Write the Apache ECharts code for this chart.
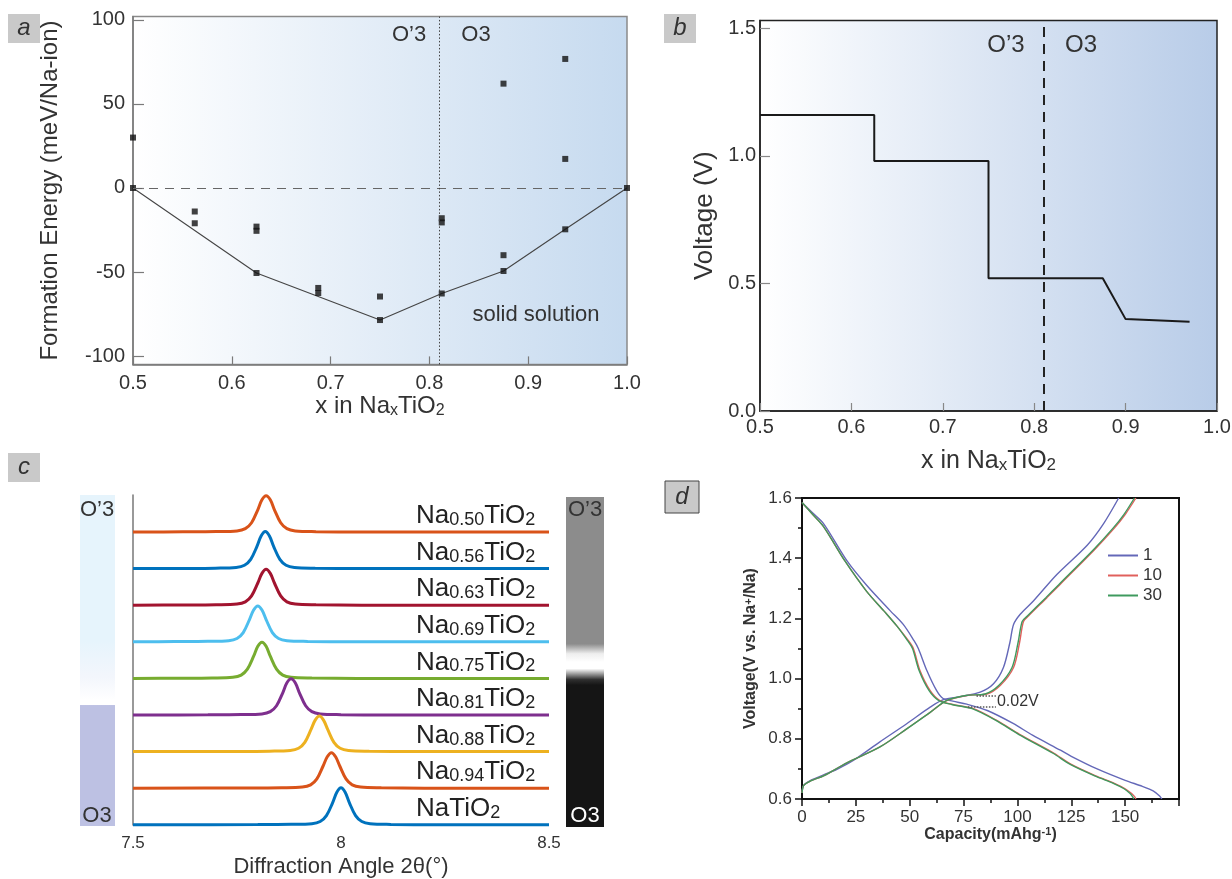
<!DOCTYPE html>
<html><head><meta charset="utf-8">
<script src="https://cdn.jsdelivr.net/npm/echarts@6.0.0/dist/echarts.min.js"></script>
<style>html,body{margin:0;padding:0;background:#fff}#chart{width:1232px;height:879px}</style>
</head><body><div id="chart"></div>
<script>
// ---------------- Panel a : formation energy ----------------
const formationX = [0.5,0.5,0.5625,0.5625,0.625,0.625,0.625,0.6875,0.6875,0.75,0.75,0.8125,0.8125,0.8125,0.875,0.875,0.875,0.9375,0.9375,0.9375,1.0];
const formationE = [30,0,-14,-21,-23,-25.5,-50.6,-59.5,-62.5,-64.6,-78.6,-18,-20.5,-62.8,62.1,-40,-49.4,76.8,17.3,-24.6,0];
const hullX = [0.5,0.625,0.75,0.8125,0.875,0.9375,1.0];
const hullE = [0,-50.6,-78.6,-62.8,-49.4,-24.6,0];
const boundaryA = 0.8125;
const aTickValues = [-100,-50,0,50,100];

// ---------------- Panel b : voltage profile ----------------
const stepX = [0.5,0.625,0.625,0.75,0.75,0.875,0.9,0.97];
const stepV = [1.16,1.16,0.98,0.98,0.52,0.52,0.36,0.35];
const boundaryB = 0.81;
const bTickValues = [0,0.5,1.0,1.5];

// ---------------- Panel c : XRD (003) peaks ----------------
const compositions = ['0.50','0.56','0.63','0.69','0.75','0.81','0.88','0.94',''];
const traceColors = ['#D95319','#0072BD','#A2142F','#4DBEEE','#77AC30','#7E2F8E','#EDB120','#D95319','#0072BD'];
const xrd050 = [[7.5,0],[7.62,0.005],[7.7,0.012],[7.75,0.03],[7.77,0.09],[7.785,0.25],[7.8,0.6],[7.81,0.87],[7.82,0.98],[7.83,0.87],[7.84,0.6],[7.855,0.25],[7.87,0.09],[7.89,0.03],[7.94,0.01],[8.05,0],[8.5,0]];
const xrd056 = [[7.5,0],[7.62,0.005],[7.698,0.012],[7.748,0.03],[7.768,0.09],[7.783,0.25],[7.798,0.6],[7.808,0.88],[7.818,1.0],[7.828,0.88],[7.838,0.6],[7.853,0.25],[7.868,0.09],[7.888,0.03],[7.938,0.01],[8.05,0],[8.5,0]];
const xrd063 = [[7.5,0],[7.62,0.005],[7.7,0.012],[7.75,0.03],[7.77,0.09],[7.785,0.25],[7.8,0.6],[7.81,0.86],[7.82,0.97],[7.83,0.86],[7.84,0.6],[7.855,0.25],[7.87,0.09],[7.89,0.03],[7.94,0.01],[8.05,0],[8.5,0]];
const xrd069 = [[7.5,0],[7.6,0.005],[7.68,0.012],[7.73,0.03],[7.75,0.09],[7.765,0.25],[7.78,0.6],[7.79,0.86],[7.8,0.97],[7.81,0.86],[7.82,0.6],[7.835,0.25],[7.85,0.09],[7.87,0.03],[7.92,0.01],[8.03,0],[8.5,0]];
const xrd075 = [[7.5,0],[7.61,0.005],[7.69,0.012],[7.74,0.03],[7.76,0.09],[7.775,0.25],[7.79,0.6],[7.8,0.87],[7.81,0.98],[7.82,0.87],[7.83,0.6],[7.845,0.25],[7.86,0.09],[7.88,0.03],[7.93,0.01],[8.04,0],[8.5,0]];
const xrd081 = [[7.5,0],[7.68,0.005],[7.76,0.012],[7.81,0.03],[7.83,0.09],[7.845,0.25],[7.86,0.6],[7.87,0.87],[7.88,0.98],[7.89,0.87],[7.9,0.6],[7.915,0.25],[7.93,0.09],[7.95,0.03],[8.0,0.01],[8.11,0],[8.5,0]];
const xrd088 = [[7.5,0],[7.75,0.005],[7.828,0.012],[7.878,0.03],[7.898,0.09],[7.913,0.25],[7.928,0.6],[7.938,0.85],[7.948,0.96],[7.958,0.85],[7.968,0.6],[7.983,0.25],[7.998,0.09],[8.018,0.03],[8.068,0.01],[8.18,0],[8.5,0]];
const xrd094 = [[7.5,0],[7.78,0.005],[7.857,0.012],[7.907,0.03],[7.927,0.09],[7.942,0.25],[7.957,0.6],[7.967,0.85],[7.977,0.96],[7.987,0.85],[7.997,0.6],[8.012,0.25],[8.027,0.09],[8.047,0.03],[8.097,0.01],[8.2,0],[8.5,0]];
const xrd100 = [[7.5,0],[7.8,0.005],[7.88,0.012],[7.93,0.03],[7.95,0.09],[7.965,0.25],[7.98,0.6],[7.99,0.88],[8.0,1.0],[8.01,0.88],[8.02,0.6],[8.035,0.25],[8.05,0.09],[8.07,0.03],[8.12,0.01],[8.23,0],[8.5,0]];
const xrdTraces = [xrd050,xrd056,xrd063,xrd069,xrd075,xrd081,xrd088,xrd094,xrd100];

// ---------------- Panel d : charge / discharge ----------------
const cycleNames = ['1','10','30'];
const cycleColors = ['#6468b8','#e0605c','#3f9a5e'];
const cap1Dis = [0,5,10,21,30,41,47,52,54,58,62.5,65.5,70,76.5,86,98,107,120,125,137,150,158,163,166,167];
const volt1Dis = [1.585,1.55,1.515,1.39,1.31,1.225,1.18,1.126,1.10,1.026,0.96,0.934,0.925,0.915,0.894,0.851,0.812,0.762,0.742,0.70,0.662,0.642,0.627,0.61,0.60];
const cap10Dis = [0,5,10,20,30,38,44,49.4,51.7,54.8,59.5,64,70,79.6,90.4,101,117,125,137,145,150,153,154.5,155];
const volt10Dis = [1.585,1.545,1.505,1.39,1.29,1.225,1.175,1.126,1.10,1.026,0.96,0.927,0.914,0.90,0.861,0.815,0.752,0.715,0.675,0.652,0.634,0.618,0.607,0.60];
const cap30Dis = [0,5,10,20,30,38,44,49,51.3,54.4,59,63.5,69.5,79,90,100.5,116.5,124.5,136.5,144.5,149.5,152.3,153.5,154];
const volt30Dis = [1.585,1.545,1.505,1.39,1.29,1.225,1.175,1.126,1.10,1.026,0.96,0.927,0.914,0.90,0.861,0.815,0.752,0.715,0.675,0.652,0.634,0.618,0.607,0.60];
const cap1Chg = [0,0.8,4,10,16,24,36,48.6,59.5,65.6,73.4,82.7,88.9,93.5,96.5,98.2,101.3,107.4,118.3,132.5,140,147];
const volt1Chg = [0.62,0.645,0.662,0.68,0.698,0.729,0.789,0.85,0.905,0.93,0.94,0.955,0.983,1.037,1.12,1.18,1.214,1.258,1.346,1.444,1.515,1.6];
const cap10Chg = [0,0.8,4,10,20.8,36.2,48.6,59.5,67.2,76.5,85.8,92,98.2,101,102.8,105.1,113.7,119.8,136,145,150,155];
const volt10Chg = [0.62,0.645,0.66,0.677,0.72,0.773,0.833,0.888,0.927,0.944,0.949,0.977,1.037,1.12,1.19,1.208,1.269,1.313,1.43,1.50,1.545,1.6];
const cap30Chg = [0,0.8,4,10,20.8,36.2,48.6,59.5,67,76,85,91.3,97.5,100.3,102.2,104.6,113.2,119.3,135.5,144.4,149.4,154.3];
const volt30Chg = [0.62,0.645,0.66,0.677,0.72,0.773,0.833,0.888,0.927,0.944,0.949,0.977,1.037,1.12,1.19,1.208,1.269,1.313,1.43,1.50,1.545,1.6];
const gapSegments = [[[81,0.944],[90,0.944]],[[77,0.905],[90,0.905]]];
const gapLabel = {cap: 90.5, volt: 0.925, text: '0.02V'};

// ---------------- build ----------------
const FF = 'Liberation Sans, Arial, sans-serif';
const zip = (xs, ys) => xs.map((x, i) => [x, ys[i]]);
const chart = echarts.init(document.getElementById('chart'), null, {renderer: 'canvas'});

const grids = [], xAxes = [], yAxes = [], series = [];

// panel a
grids.push({left:133, top:16.6, width:494, height:347.8, show:true, borderColor:'#8a8a8a', borderWidth:1.5,
  backgroundColor:{type:'linear',x:0,y:0,x2:1,y2:0,colorStops:[{offset:0,color:'#ffffff'},{offset:1,color:'#c6daef'}]}});
xAxes.push({gridIndex:0, type:'value', min:0.5, max:1.0, interval:0.1,
  axisLine:{onZero:false, lineStyle:{color:'#7a7a7a', width:1.5}},
  axisTick:{inside:true, length:8, lineStyle:{color:'#7a7a7a', width:1.2}},
  axisLabel:{margin:9, fontSize:20, color:'#333', fontFamily:FF, formatter:v=>v.toFixed(1)},
  splitLine:{show:false},
  name:'x in Na{s|x}TiO{s|2}', nameLocation:'middle', nameGap:29,
  nameTextStyle:{fontSize:24, color:'#333', fontFamily:FF, rich:{s:{fontSize:16, color:'#333', fontFamily:FF, verticalAlign:'bottom'}}}});
yAxes.push({gridIndex:0, type:'value', min:-105, max:102,
  axisLine:{onZero:false, lineStyle:{color:'#7a7a7a', width:1.5}},
  axisTick:{inside:true, length:11, customValues:aTickValues, lineStyle:{color:'#7a7a7a', width:1.2}},
  axisLabel:{margin:8, fontSize:20, color:'#333', fontFamily:FF, customValues:aTickValues},
  splitLine:{show:false},
  name:'Formation Energy (meV/Na-ion)', nameLocation:'middle', nameGap:71,
  nameTextStyle:{fontSize:24, color:'#333', fontFamily:FF}});
series.push({type:'line', xAxisIndex:0, yAxisIndex:0, data:zip(hullX, hullE), symbol:'none',
  lineStyle:{color:'#444', width:1.1}, silent:true, z:3,
  markLine:{silent:true, symbol:'none', label:{show:false}, animation:false,
    data:[{yAxis:0, lineStyle:{type:[9,7], color:'#666', width:1}},
          {xAxis:boundaryA, lineStyle:{type:[1.5,2], color:'#444', width:1}}]}});
series.push({type:'scatter', xAxisIndex:0, yAxisIndex:0, data:zip(formationX, formationE), symbol:'rect', symbolSize:6,
  itemStyle:{color:'#111'}, z:4});

// panel b
grids.push({left:760, top:20.5, width:457, height:390.5, show:true, borderColor:'#222', borderWidth:1.5,
  backgroundColor:{type:'linear',x:0,y:0,x2:1,y2:0,colorStops:[{offset:0,color:'#ffffff'},{offset:1,color:'#b8cce8'}]}});
xAxes.push({gridIndex:1, type:'value', min:0.5, max:1.0, interval:0.1,
  axisLine:{onZero:false, lineStyle:{color:'#222', width:1.5}},
  axisTick:{inside:true, length:8, lineStyle:{color:'#888', width:1.2}},
  axisLabel:{margin:6, fontSize:20, color:'#333', fontFamily:FF, formatter:v=>v.toFixed(1)},
  splitLine:{show:false},
  name:'x in Na{s|x}TiO{s|2}', nameLocation:'middle', nameGap:38,
  nameTextStyle:{fontSize:25, color:'#333', fontFamily:FF, rich:{s:{fontSize:17, color:'#333', fontFamily:FF, verticalAlign:'bottom'}}}});
yAxes.push({gridIndex:1, type:'value', min:0, max:1.53,
  axisLine:{onZero:false, lineStyle:{color:'#222', width:1.5}},
  axisTick:{inside:true, length:10, customValues:bTickValues, lineStyle:{color:'#888', width:1.2}},
  axisLabel:{margin:4, fontSize:20, color:'#333', fontFamily:FF, customValues:bTickValues, formatter:v=>v.toFixed(1)},
  splitLine:{show:false},
  name:'Voltage (V)', nameLocation:'middle', nameGap:42,
  nameTextStyle:{fontSize:26, color:'#333', fontFamily:FF}});
series.push({type:'line', xAxisIndex:1, yAxisIndex:1, data:zip(stepX, stepV), symbol:'none',
  lineStyle:{color:'#1a1a1a', width:2}, silent:true,
  markLine:{silent:true, symbol:'none', label:{show:false}, animation:false,
    data:[{xAxis:boundaryB, lineStyle:{type:[10,7], color:'#222', width:2}}]}});

// panel c main frame (axis + labels)
grids.push({left:133, top:495, width:416, height:330, show:false});
xAxes.push({gridIndex:2, type:'value', min:7.5, max:8.5, interval:0.5,
  axisLine:{show:false}, axisTick:{show:false}, splitLine:{show:false},
  axisLabel:{margin:10, fontSize:17, color:'#333', fontFamily:FF},
  name:'Diffraction Angle 2θ(°)', nameLocation:'middle', nameGap:31,
  nameTextStyle:{fontSize:22, color:'#333', fontFamily:FF}});
yAxes.push({gridIndex:2, type:'value', min:0, max:1,
  axisLine:{show:true, onZero:false, lineStyle:{color:'#777', width:1.5}},
  axisTick:{show:false}, axisLabel:{show:false}, splitLine:{show:false}});

const cBase0 = 532, cStep = 36.6, cPeakPx = 37;
xrdTraces.forEach((tr, i) => {
  const gi = grids.length;
  const base = cBase0 + i * cStep;
  grids.push({left:133, top:base - cPeakPx, width:416, height:cPeakPx, show:false});
  xAxes.push({gridIndex:gi, type:'value', min:7.5, max:8.5, show:false});
  yAxes.push({gridIndex:gi, type:'value', min:0, max:1, show:false});
  series.push({type:'line', xAxisIndex:gi, yAxisIndex:gi, data:tr, symbol:'none', smooth:0.35, clip:false,
    lineStyle:{color:traceColors[i], width:3}, silent:true, z:2 + i});
});

// panel d
const gD = grids.length;
grids.push({left:802, top:498, width:377, height:301, show:true, borderColor:'#111', borderWidth:2, backgroundColor:'#fff'});
xAxes.push({gridIndex:gD, type:'value', min:0, max:175, interval:25,
  axisLine:{onZero:false, lineStyle:{color:'#111', width:2}},
  axisTick:{inside:false, length:7, lineStyle:{color:'#111', width:1.5}},
  minorTick:{show:true, splitNumber:2, length:4, lineStyle:{color:'#111', width:1.5}},
  axisLabel:{margin:10, fontSize:17, color:'#333', fontFamily:FF, showMaxLabel:false},
  splitLine:{show:false},
  name:'Capacity(mAhg{sup|-1})', nameLocation:'middle', nameGap:27,
  nameTextStyle:{fontSize:16, fontWeight:'bold', color:'#333', fontFamily:FF,
    rich:{sup:{fontSize:11, fontWeight:'bold', color:'#333', fontFamily:FF, verticalAlign:'top'}}}});
yAxes.push({gridIndex:gD, type:'value', min:0.6, max:1.6, interval:0.2,
  axisLine:{onZero:false, lineStyle:{color:'#111', width:2}},
  axisTick:{inside:false, length:7, lineStyle:{color:'#111', width:1.5}},
  minorTick:{show:true, splitNumber:2, length:4, lineStyle:{color:'#111', width:1.5}},
  axisLabel:{margin:10, fontSize:17, color:'#333', fontFamily:FF, formatter:v=>v.toFixed(1)},
  splitLine:{show:false},
  name:'Voltage(V vs. Na{sup|+}/Na)', nameLocation:'middle', nameGap:43,
  nameTextStyle:{fontSize:16, fontWeight:'bold', color:'#333', fontFamily:FF,
    rich:{sup:{fontSize:11, fontWeight:'bold', color:'#333', fontFamily:FF, verticalAlign:'top'}}}});
const dCurves = [
  [0, cap1Dis, volt1Dis],[0, cap1Chg, volt1Chg],
  [1, cap10Dis, volt10Dis],[1, cap10Chg, volt10Chg],
  [2, cap30Dis, volt30Dis],[2, cap30Chg, volt30Chg]];
dCurves.forEach(([ci, xs, ys], k) => {
  const s = {type:'line', name:cycleNames[ci], xAxisIndex:gD, yAxisIndex:gD, data:zip(xs, ys), symbol:'none', smooth:0.3,
    lineStyle:{color:cycleColors[ci], width:1.4}, itemStyle:{color:cycleColors[ci]}, silent:true};
  if (k === 5) {
    s.markLine = {silent:true, symbol:'none', label:{show:false}, animation:false,
      lineStyle:{type:[1.5,1.5], color:'#555', width:1.5},
      data: gapSegments.map(seg => [{coord:seg[0]}, {coord:seg[1]}])};
    s.markPoint = {silent:true, symbol:'circle', symbolSize:0,
      data:[{coord:[gapLabel.cap, gapLabel.volt]}],
      label:{show:true, position:'right', distance:0, formatter:gapLabel.text, fontSize:16, color:'#333', fontFamily:FF}};
  }
  series.push(s);
});

// graphic annotations
const txt = (x, y, text, o = {}) => ({type:'text', x, y, silent:true, z:100, style:Object.assign({
  text, fontSize:22, fontFamily:FF, fill:'#333', align:'center', verticalAlign:'middle',
  textAlign:'center', textVerticalAlign:'middle'}, o)});
const panelBox = (x, y, w, h, letter, border) => [
  {type:'rect', shape:{x, y, width:w, height:h}, silent:true, z:90,
   style:{fill:'#c9c9c9', stroke: border ? '#444' : null, lineWidth: border ? 1 : 0}},
  txt(x + w / 2, y + h / 2, letter, {fontSize:24, fontStyle:'italic', fill:'#333'})];

const graphics = [
  ...panelBox(8, 14, 32, 29, 'a', false),
  ...panelBox(664, 14, 32, 29, 'b', false),
  ...panelBox(8, 453, 32, 29, 'c', false),
  ...panelBox(665, 481, 34, 32, 'd', true),
  txt(409, 35, 'O’3', {fontSize:22}), txt(476, 35, 'O3', {fontSize:22}),
  txt(536, 315, 'solid solution', {fontSize:22}),
  txt(1006, 45, 'O’3', {fontSize:24}), txt(1081, 45, 'O3', {fontSize:24}),
  // panel c side bars
  {type:'rect', shape:{x:80, y:495, width:35, height:331}, silent:true, z:1,
   style:{fill:{type:'linear',x:0,y:0,x2:0,y2:1,colorStops:[
     {offset:0,color:'#e6f4fc'},{offset:0.44,color:'#e6f4fc'},{offset:0.55,color:'#f3f6fc'},
     {offset:0.62,color:'#ffffff'},{offset:0.634,color:'#ffffff'},{offset:0.636,color:'#bdc1e3'},{offset:1,color:'#bdc1e3'}]}}},
  {type:'rect', shape:{x:566, y:497, width:38, height:330}, silent:true, z:1,
   style:{fill:{type:'linear',x:0,y:0,x2:0,y2:1,colorStops:[
     {offset:0,color:'#8c8c8c'},{offset:0.445,color:'#8c8c8c'},{offset:0.475,color:'#eeeeee'},
     {offset:0.5,color:'#ffffff'},{offset:0.52,color:'#ffffff'},{offset:0.553,color:'#303030'},
     {offset:0.57,color:'#151515'},{offset:1,color:'#151515'}]}}},
  txt(97, 510, 'O’3', {fontSize:22}), txt(97, 816, 'O3', {fontSize:22}),
  txt(585, 510, 'O’3', {fontSize:22, fill:'#333'}), txt(585, 816, 'O3', {fontSize:22, fill:'#fff'})
];
compositions.forEach((c, i) => {
  const base = cBase0 + i * cStep;
  graphics.push({type:'text', x:416, y:base - 16, silent:true, z:100,
    style:{text: c ? 'Na{s|' + c + '}TiO{s|2}' : 'NaTiO{s|2}', fontSize:26, fontFamily:FF, fill:'#222',
      align:'left', verticalAlign:'middle', textAlign:'left', textVerticalAlign:'middle',
      rich:{s:{fontSize:18, fontFamily:FF, fill:'#222', verticalAlign:'bottom'}}}});
});

chart.setOption({
  animation:false,
  backgroundColor:'#ffffff',
  textStyle:{fontFamily:FF},
  grid:grids.map(g => Object.assign({outerBoundsMode:'none', containLabel:false}, g)),
  xAxis:xAxes, yAxis:yAxes, series,
  legend:{data:cycleNames, orient:'vertical', left:1103, top:542, itemWidth:30, itemHeight:2, icon:'rect',
    itemGap:3, textStyle:{fontSize:17, color:'#333', fontFamily:FF}},
  graphic:{elements:graphics}
});
</script></body></html>
